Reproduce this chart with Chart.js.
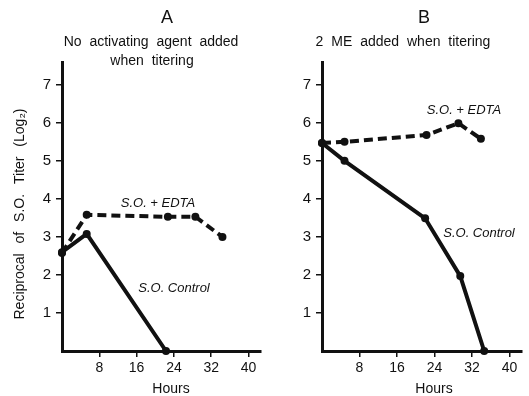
<!DOCTYPE html>
<html><head><meta charset="utf-8">
<script src="https://cdn.jsdelivr.net/npm/chart.js@4.4.1/dist/chart.umd.min.js"></script>
<style>html,body{margin:0;padding:0;background:#fff;overflow:hidden}
#wrap{position:relative;width:529px;height:396px;background:#fff}
canvas{position:absolute;top:0}
</style></head><body>
<div id="wrap"><canvas id="a" width="265" height="396" style="left:0"></canvas><canvas id="b" width="264" height="396" style="left:265px"></canvas></div>
<script>
const xTicks = [8, 16, 24, 32, 40];
const yTicks = [1, 2, 3, 4, 5, 6, 7];
const hoursA_edta = [0, 5.3, 22.7, 28.6, 34.4];
const titerA_edta = [2.58, 3.58, 3.53, 3.53, 3.0];
const hoursA_ctrl = [0, 5.3, 22.3];
const titerA_ctrl = [2.6, 3.08, 0];
const hoursB_edta = [0, 4.8, 22.3, 29.1, 33.9];
const titerB_edta = [5.47, 5.5, 5.68, 5.99, 5.58];
const hoursB_ctrl = [0, 4.8, 22.0, 29.5, 34.6];
const titerB_ctrl = [5.47, 5.0, 3.49, 1.97, 0];

const INK = '#111';
const FAM = '"Liberation Sans", Arial, sans-serif';

function pts(xs, ys) { return xs.map((x, i) => ({ x: x, y: ys[i] })); }

const textPlugin = {
  id: 'texts',
  afterDraw(chart, args, opts) {
    const ctx = chart.ctx;
    (opts.items || []).forEach(it => {
      ctx.save();
      ctx.fillStyle = INK;
      ctx.font = it.font;
      ctx.textAlign = 'center';
      ctx.textBaseline = 'middle';
      if (it.ws) ctx.wordSpacing = it.ws;
      ctx.translate(it.x - opts.offset, it.y);
      if (it.rot) ctx.rotate(it.rot);
      ctx.fillText(it.text, 0, 0);
      ctx.restore();
    });
  }
};

function makeChart(id, yWidth, padRight, offset, datasets, items) {
  return new Chart(document.getElementById(id), {
    type: 'line',
    data: { datasets: datasets },
    options: {
      responsive: false,
      animation: false,
      layout: { padding: { top: 62, right: padRight, left: 0, bottom: 0 } },
      plugins: { legend: { display: false }, tooltip: { enabled: false }, texts: { items: items, offset: offset } },
      scales: {
        x: {
          type: 'linear', min: 0, max: 42.67,
          afterBuildTicks: s => { s.ticks = xTicks.map(v => ({ value: v })); },
          afterFit: s => { s.height = 45; },
          ticks: { color: INK, font: { size: 14, family: FAM }, padding: 3, maxRotation: 0, autoSkip: false },
          grid: { drawOnChartArea: false, drawTicks: true, tickLength: 6, color: INK, lineWidth: 1.5 },
          border: { display: true, color: INK, width: 3 }
        },
        y: {
          type: 'linear', min: 0, max: 7.6,
          afterBuildTicks: s => { s.ticks = yTicks.map(v => ({ value: v })); },
          afterFit: s => { s.width = yWidth; },
          ticks: { color: INK, font: { size: 15, family: FAM }, padding: 5, autoSkip: false },
          grid: { drawOnChartArea: false, drawTicks: true, tickLength: 6, color: INK, lineWidth: 1.5 },
          border: { display: true, color: INK, width: 3 }
        }
      }
    },
    plugins: [textPlugin]
  });
}

function ds(data, dashed) {
  return {
    data: data, borderColor: INK, backgroundColor: INK, borderWidth: 4,
    borderDash: dashed ? [9, 5] : [], pointRadius: 4, pointHoverRadius: 4,
    pointBorderWidth: 0, tension: 0, clip: false
  };
}

const italic = 'italic 13px ' + FAM;
makeChart('a', 62, 3, 0, [
  ds(pts(hoursA_edta, titerA_edta), true),
  ds(pts(hoursA_ctrl, titerA_ctrl), false)
], [
  { text: 'A', x: 167, y: 18, font: '18px ' + FAM },
  { text: 'No activating agent added', x: 151, y: 42, font: '14px ' + FAM, ws: '4px' },
  { text: 'when titering', x: 152, y: 61, font: '14px ' + FAM, ws: '4px' },
  { text: 'Reciprocal of S.O. Titer (Log\u2082)', x: 20, y: 214, font: '14px ' + FAM, ws: '6px', rot: -Math.PI / 2 },
  { text: 'Hours', x: 171, y: 389, font: '14px ' + FAM },
  { text: 'S.O. + EDTA', x: 158, y: 203, font: italic },
  { text: 'S.O. Control', x: 174, y: 288, font: italic }
]);

makeChart('b', 57, 7, 265, [
  ds(pts(hoursB_edta, titerB_edta), true),
  ds(pts(hoursB_ctrl, titerB_ctrl), false)
], [
  { text: 'B', x: 424, y: 18, font: '18px ' + FAM },
  { text: '2 ME added when titering', x: 403, y: 42, font: '14px ' + FAM, ws: '4px' },
  { text: 'Hours', x: 434, y: 389, font: '14px ' + FAM },
  { text: 'S.O. + EDTA', x: 464, y: 110, font: italic },
  { text: 'S.O. Control', x: 479, y: 233, font: italic }
]);
</script>
</body></html>
